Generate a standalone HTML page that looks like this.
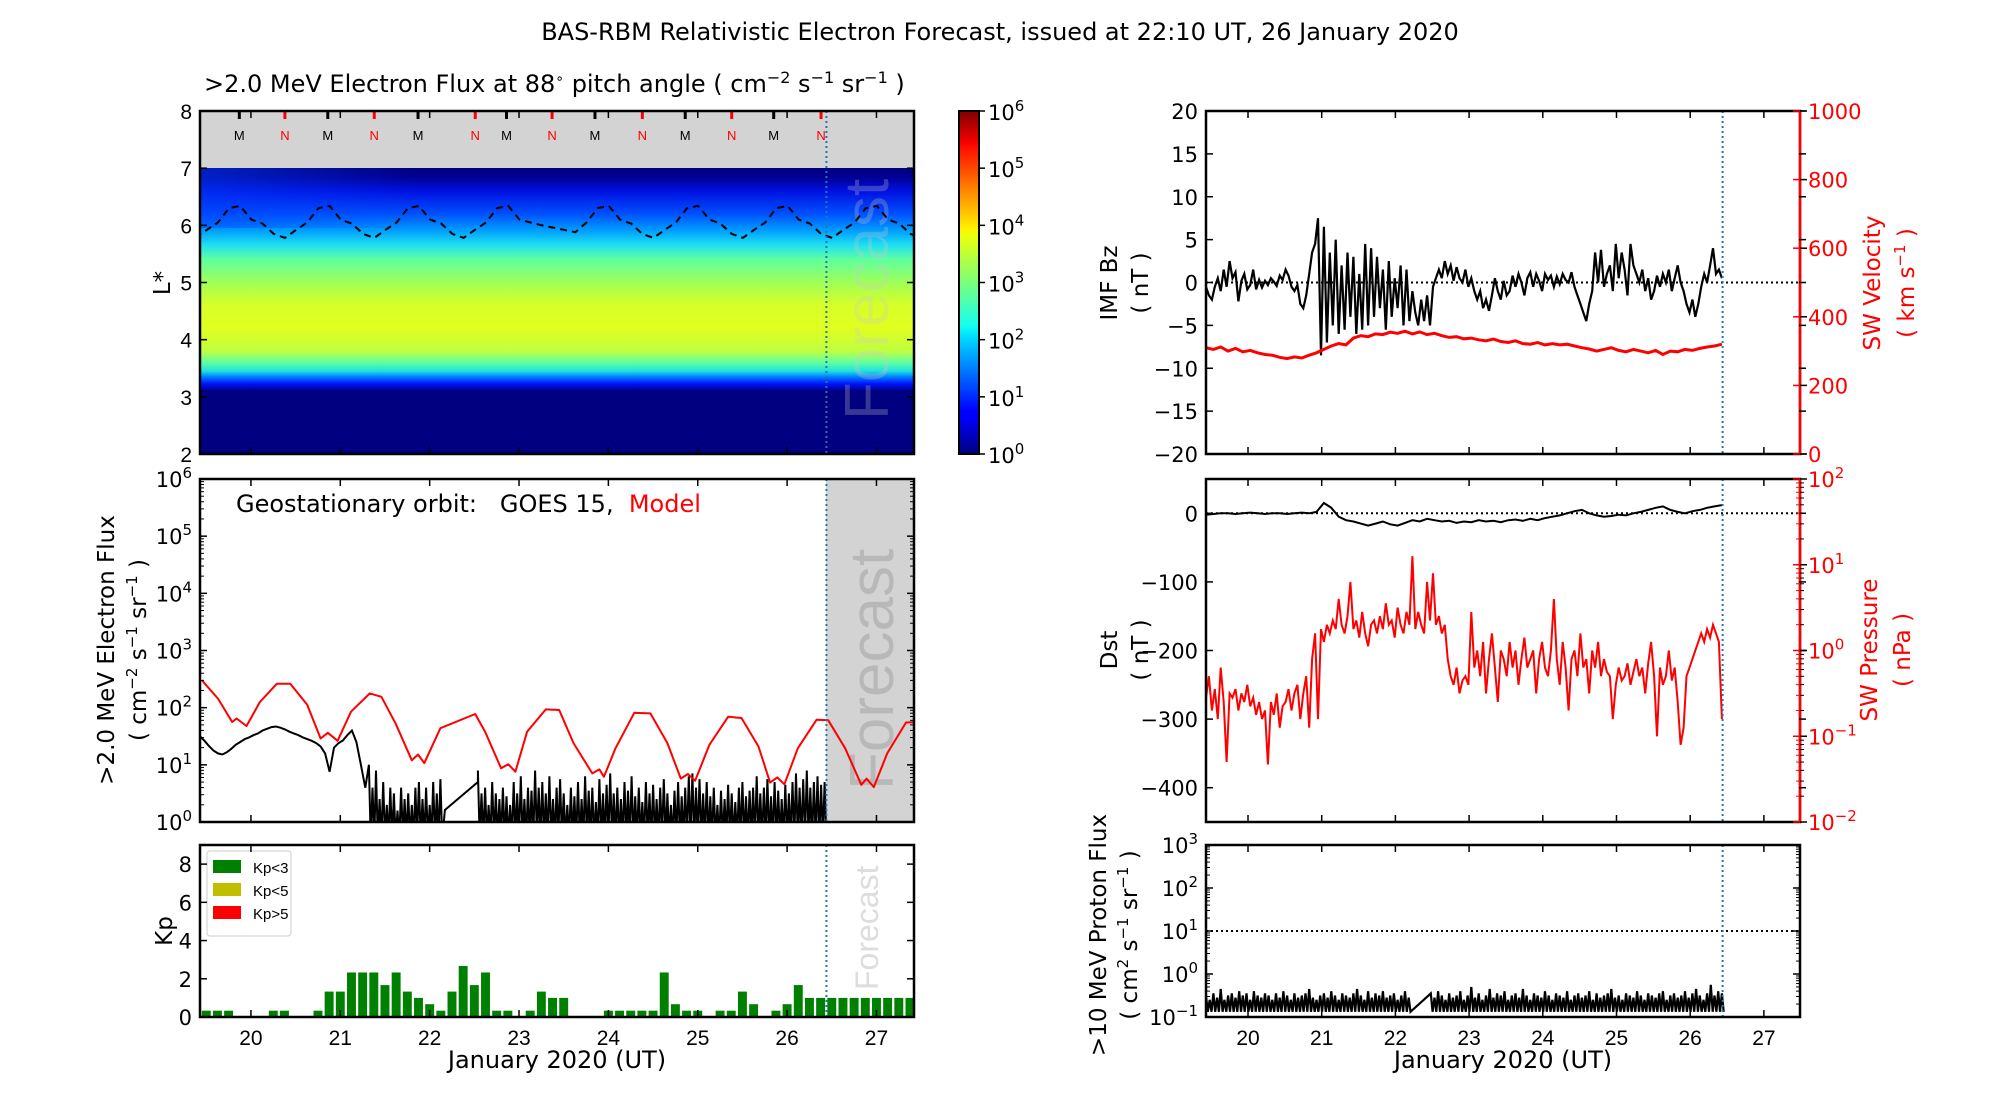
<!DOCTYPE html>
<html><head><meta charset="utf-8"><style>
html,body{margin:0;padding:0;background:#fff;}
svg{display:block;}
text{font-family:"DejaVu Sans","Liberation Sans",sans-serif;}
.lt{font-family:"Liberation Sans","DejaVu Sans",sans-serif;}
</style></head><body>
<svg id="fig" width="2000" height="1100" viewBox="0 0 2000 1100" xmlns="http://www.w3.org/2000/svg">
<defs>
<linearGradient id="heat" x1="0" y1="1" x2="0" y2="0">
<stop offset="0" stop-color="#000080"/><stop offset="0.22" stop-color="#000080"/>
<stop offset="0.245" stop-color="#0010ff"/><stop offset="0.27" stop-color="#0080ff"/>
<stop offset="0.29" stop-color="#20e0e0"/><stop offset="0.32" stop-color="#60ffa0"/>
<stop offset="0.36" stop-color="#c0ff40"/><stop offset="0.44" stop-color="#e0ff20"/>
<stop offset="0.52" stop-color="#d8ff28"/><stop offset="0.6" stop-color="#a0ff58"/>
<stop offset="0.68" stop-color="#60ffa0"/><stop offset="0.73" stop-color="#20e0f0"/>
<stop offset="0.78" stop-color="#00a0ff"/><stop offset="0.84" stop-color="#0050ff"/>
<stop offset="0.92" stop-color="#0010e0"/><stop offset="0.97" stop-color="#000090"/>
<stop offset="1" stop-color="#000080"/></linearGradient>
<linearGradient id="jet" x1="0" y1="1" x2="0" y2="0">
<stop offset="0" stop-color="#000080"/><stop offset="0.11" stop-color="#0000ff"/>
<stop offset="0.125" stop-color="#0000ff"/><stop offset="0.34" stop-color="#00dbff"/>
<stop offset="0.375" stop-color="#14fff0"/><stop offset="0.5" stop-color="#7aff7a"/>
<stop offset="0.64" stop-color="#f0ff08"/><stop offset="0.66" stop-color="#ffee00"/>
<stop offset="0.89" stop-color="#ff1200"/><stop offset="0.91" stop-color="#f50000"/>
<stop offset="1" stop-color="#800000"/></linearGradient>
<linearGradient id="edge" x1="0" y1="0" x2="1" y2="0">
<stop offset="0" stop-color="#0040ff" stop-opacity="0.5"/><stop offset="0.3" stop-color="#0040ff" stop-opacity="0"/></linearGradient>
<clipPath id="cLT"><rect x="200" y="111" width="714" height="343"/></clipPath>
<clipPath id="cLM"><rect x="200" y="479" width="714" height="343"/></clipPath>
<clipPath id="cLK"><rect x="200" y="845" width="714" height="172"/></clipPath>
<clipPath id="cRT"><rect x="1206" y="111" width="594" height="343"/></clipPath>
<clipPath id="cRM"><rect x="1206" y="479" width="594" height="343"/></clipPath>
<clipPath id="cRB"><rect x="1206" y="845" width="594" height="172"/></clipPath>
</defs>

<text x="1000" y="40" text-anchor="middle" font-size="24">BAS-RBM Relativistic Electron Forecast, issued at 22:10 UT, 26 January 2020</text>
<text x="204" y="92" font-size="24">&gt;2.0 MeV Electron Flux at 88<tspan dy="-9" font-size="14">∘</tspan><tspan dy="9">  pitch angle ( cm</tspan><tspan dy="-9" font-size="16">−2</tspan><tspan dy="9"> s</tspan><tspan dy="-9" font-size="16">−1</tspan><tspan dy="9"> sr</tspan><tspan dy="-9" font-size="16">−1</tspan><tspan dy="9">  )</tspan></text>

<!-- top-left heatmap -->
<g clip-path="url(#cLT)">
<rect x="200" y="111" width="714" height="343" fill="#d3d3d3"/>
<rect x="200" y="168" width="714" height="286" fill="url(#heat)"/>
<rect x="200" y="168" width="714" height="60" fill="url(#edge)"/>
<text x="0" y="0" transform="translate(888,420) rotate(-90)" font-size="62" fill="#c8c8c8" fill-opacity="0.28" class="lt">Forecast</text>
<g id="gLT"></g>
</g>
<rect x="959" y="111" width="20" height="343" fill="url(#jet)" stroke="#000" stroke-width="2"/>
<g id="gCB"></g>

<!-- middle-left -->
<rect x="826" y="479" width="88" height="343" fill="#d3d3d3"/>
<text x="0" y="0" transform="translate(893,790) rotate(-90)" font-size="62" fill="#b8b8b8" class="lt">Forecast</text>
<g clip-path="url(#cLM)" id="gLM"></g>
<text x="236" y="512" font-size="24" style="white-space:pre" xml:space="preserve">Geostationary orbit:   GOES 15,  <tspan fill="#ff0000">Model</tspan></text>

<!-- Kp -->
<text x="0" y="0" transform="translate(878,990) rotate(-90)" font-size="32" fill="#dddddd" class="lt">Forecast</text>
<g clip-path="url(#cLK)" id="gLK"></g>
<g>
<rect x="207" y="851" width="84" height="85" rx="3" fill="#fff" stroke="#ccc"/>
<rect x="213" y="860" width="28" height="13" fill="#008000"/>
<text x="253" y="873" font-size="15" class="lt">Kp&lt;3</text>
<rect x="213" y="883" width="28" height="13" fill="#bfbf00"/>
<text x="253" y="896" font-size="15" class="lt">Kp&lt;5</text>
<rect x="213" y="906" width="28" height="13" fill="#ff0000"/>
<text x="253" y="919" font-size="15" class="lt">Kp&gt;5</text>
</g>

<g clip-path="url(#cRT)" id="gRT"></g>
<g clip-path="url(#cRM)" id="gRM"></g>
<g clip-path="url(#cRB)" id="gRB"></g>
<g id="gAx"></g>

<!-- axis labels -->
<text transform="translate(170,283) rotate(-90)" text-anchor="middle" font-size="23">L*</text>
<text transform="translate(114,650) rotate(-90)" text-anchor="middle" font-size="23">&gt;2.0 MeV Electron Flux</text>
<text transform="translate(146,650) rotate(-90)" text-anchor="middle" font-size="23">( cm<tspan dy="-9" font-size="15">−2</tspan><tspan dy="9"> s</tspan><tspan dy="-9" font-size="15">−1</tspan><tspan dy="9"> sr</tspan><tspan dy="-9" font-size="15">−1</tspan><tspan dy="9"> )</tspan></text>
<text transform="translate(172,931) rotate(-90)" text-anchor="middle" font-size="23">Kp</text>
<text x="557" y="1068" text-anchor="middle" font-size="24">January 2020 (UT)</text>
<text x="1503" y="1068" text-anchor="middle" font-size="24">January 2020 (UT)</text>
<text transform="translate(1117,283) rotate(-90)" text-anchor="middle" font-size="23">IMF Bz</text>
<text transform="translate(1148,283) rotate(-90)" text-anchor="middle" font-size="23">( nT )</text>
<text transform="translate(1880,283) rotate(-90)" text-anchor="middle" font-size="23" fill="#ff0000">SW Velocity</text>
<text transform="translate(1914,283) rotate(-90)" text-anchor="middle" font-size="23" fill="#ff0000">( km s<tspan dy="-9" font-size="15">−1</tspan><tspan dy="9"> )</tspan></text>
<text transform="translate(1117,650) rotate(-90)" text-anchor="middle" font-size="23">Dst</text>
<text transform="translate(1148,650) rotate(-90)" text-anchor="middle" font-size="23">( nT )</text>
<text transform="translate(1877,650) rotate(-90)" text-anchor="middle" font-size="23" fill="#ff0000">SW Pressure</text>
<text transform="translate(1910,650) rotate(-90)" text-anchor="middle" font-size="23" fill="#ff0000">( nPa )</text>
<text transform="translate(1106,935) rotate(-90)" text-anchor="middle" font-size="23">&gt;10 MeV Proton Flux</text>
<text transform="translate(1137,935) rotate(-90)" text-anchor="middle" font-size="23">( cm<tspan dy="-9" font-size="15">2</tspan><tspan dy="9"> s</tspan><tspan dy="-9" font-size="15">−1</tspan><tspan dy="9"> sr</tspan><tspan dy="-9" font-size="15">−1</tspan><tspan dy="9"> )</tspan></text>
</svg>
<script>
// ---------------- data ----------------
const dayTicks=[20,21,22,23,24,25,26,27];
const forecastDay=26.44;
const mlmDays=[19.87,20.86,21.87,22.86,23.85,24.86,25.85];
const midnightDays=[20.38,21.38,22.51,23.37,24.38,25.38,26.38];
const geoLStart=19.38, geoLStep=0.125;
const geoLstar=[5.78,5.92,6.05,6.3,6.34,6.1,6.03,5.85, 5.78,5.92,6.05,6.3,6.34,6.1,6.03,5.85, 5.78,5.92,6.05,6.3,6.34,6.1,6.03,5.85, 5.78,5.92,6.05,6.3,6.34,6.1,6.05,6.0, 5.96,5.92,5.88,6.05,6.3,6.34,6.1,6.03,5.85, 5.78,5.92,6.05,6.3,6.34,6.1,6.03,5.85, 5.78,5.92,6.05,6.3,6.34,6.1,6.03,5.85, 5.78,5.92,6.05,6.3,6.34,6.1,6.03,5.85, 5.78,5.92,6.05,6.3,6.34,6.1,6.03,5.85, 5.78];
const modelDays=[19.45,19.63,19.79,19.84,19.95,20.10,20.29,20.44,20.63,20.78,20.86,20.97,21.12,21.33,21.46,21.62,21.80,21.87,21.94,22.12,22.51,22.62,22.80,22.88,22.96,23.09,23.30,23.45,23.61,23.82,23.90,23.95,24.08,24.29,24.47,24.66,24.81,24.89,24.97,25.13,25.34,25.49,25.68,25.81,25.89,25.97,26.12,26.33,26.46,26.65,26.83,26.89,26.97,27.12,27.33,27.48];
const modelLogFlux=[2.48,2.16,1.75,1.81,1.68,2.10,2.42,2.42,2.05,1.46,1.56,1.42,1.93,2.25,2.19,1.72,1.08,1.18,1.03,1.64,1.89,1.58,0.94,1.01,0.88,1.58,1.97,1.96,1.38,0.85,0.92,0.79,1.29,1.91,1.90,1.38,0.76,0.84,0.72,1.35,1.84,1.82,1.32,0.69,0.78,0.66,1.29,1.79,1.78,1.29,0.65,0.76,0.61,1.20,1.74,1.75];
const goesSmoothStart=19.43, goesSmoothStep=0.05;
const goesSmoothLog=[1.5,1.42,1.33,1.25,1.2,1.18,1.22,1.28,1.35,1.4,1.45,1.48,1.52,1.55,1.6,1.63,1.66,1.67,1.65,1.62,1.58,1.55,1.52,1.48,1.45,1.42,1.38,1.32,1.2,0.88,1.3,1.38,1.43,1.52,1.6,1.4,1.0,0.6];
const goesNoisy1Start=21.32, goesNoisyStep=0.04;
const goesNoisy1High=[1.0,0.6,0.9,0.4,0.7,0.3,0.6,0.5,0.2,0.6,0.4,0.5,0.3,0.6,0.7,0.4,0.6,0.3,0.7,0.5,0.75];
const goesGapDays=[22.17,22.54], goesGapLog=[0.21,0.7];
const goesNoisy2Start=22.54;
const goesNoisy2High=[0.9,0.5,0.6,0.3,0.7,0.5,0.4,0.6,0.45,0.3,0.7,0.5,0.8,0.4,0.6,0.55,0.9,0.6,0.7,0.5,0.8,0.4,0.6,0.75,0.5,0.3,0.6,0.45,0.7,0.4,0.8,0.55,0.6,0.35,0.75,0.5,0.65,0.85,0.5,0.6,0.4,0.7,0.55,0.8,0.45,0.6,0.35,0.7,0.5,0.65,0.4,0.6,0.75,0.5,0.3,0.55,0.7,0.45,0.6,0.8,0.85,0.6,0.75,0.5,0.7,0.45,0.6,0.3,0.55,0.4,0.65,0.5,0.35,0.6,0.7,0.45,0.55,0.6,0.8,0.5,0.6,0.75,0.45,0.7,0.55,0.4,0.65,0.5,0.7,0.85,0.6,0.75,0.9,0.6,0.7,0.8,0.65,0.7];
const goesFloorLog=-0.3;
const kpStart=19.5, kpStep=0.125;
const kpValues=[.33,.33,.33,0,0,0,.33,.33,0,0, .33,1.33,1.33,2.33,2.33,2.33,1.67,2.33,1.33,1, .67,.33,1.33,2.67,1.67,2.33,.33,.33,0,.33, 1.33,1,1,0,0,0,.33,.33,.33,.33, .33,2.33,.67,.33,.33,0,.33,.33,1.33,.67, 0,.33,.67,1.67,1,1,1,1,1,1, 1,1,1,1];
const rStart=19.43, rStep=0.04;
const bzValues=[-0.5,-1.5,-2.0,-0.5,0.5,-1.0,1.5,-0.5,2.5,0.5,1.2,-2.2,0.2,1.0,-0.8,-0.3,1.5,-0.8,0.3,-0.6,0.2,-0.3,0.5,0.1,-0.4,0.8,0.3,1.5,0.8,-0.5,-1.0,-0.3,-2.5,-3.0,-1.5,1.0,3.5,4.5,7.5,-8.5,6.5,-7.0,3.5,-5.0,5.0,-6.0,2.0,-5.5,3.5,-4.0,3.0,-6.0,1.0,-5.5,4.5,-5.0,4.0,-4.0,3.0,-3.0,1.5,-5.5,2.5,-4.0,0.5,-3.0,2.0,-5.0,1.5,-4.5,-1.0,-3.5,-5.0,-2.0,-4.5,-1.5,-5.0,-0.5,0.5,1.5,0.5,2.5,1.0,2.0,0.2,1.8,0.5,0.0,1.5,-0.5,0.5,-1.0,-2.0,-1.0,-3.0,-2.0,-3.3,-1.5,0.5,-1.0,-2.0,0.2,-1.5,-1.0,0.8,-0.5,1.0,0.0,-1.5,0.5,1.2,-0.5,1.0,0.2,-1.0,1.0,0.3,0.8,-0.5,0.7,-0.2,1.0,0.3,0.0,1.2,-0.5,-1.5,-2.5,-3.5,-4.5,-2.5,-1.0,3.5,0.0,3.8,-0.5,1.0,2.0,-1.0,4.5,0.5,3.5,1.5,-1.5,4.5,2.0,1.0,0.0,1.5,-1.0,0.5,-2.0,-1.0,0.8,-0.5,1.0,0.0,1.5,-1.0,0.5,2.0,0.0,-1.0,-2.5,-3.5,-2.0,-4.0,-2.5,-0.5,1.0,0.0,2.0,4.0,1.0,1.5,0.5];
const pressureLog=[-0.55,-0.3,-0.7,-0.45,-0.8,-0.2,-0.6,-1.3,-0.5,-0.55,-0.45,-0.7,-0.5,-0.6,-0.4,-0.65,-0.55,-0.75,-0.6,-0.8,-0.7,-1.33,-0.6,-0.75,-0.5,-0.9,-0.65,-0.6,-0.45,-0.7,-0.5,-0.4,-0.8,-0.5,-0.3,-0.9,-0.1,0.2,-0.8,0.25,0.1,0.3,0.2,0.35,0.25,0.6,0.3,0.2,0.4,0.8,0.25,0.35,0.15,0.45,0.2,0.05,0.3,0.35,0.2,0.4,0.25,0.55,0.3,0.35,0.15,0.5,0.3,0.2,0.45,0.3,1.1,0.25,0.45,0.3,0.2,0.8,0.35,0.9,0.3,0.4,0.2,0.3,-0.1,-0.3,-0.4,-0.2,-0.5,-0.35,-0.3,-0.4,0.45,-0.2,0.0,-0.3,0.1,-0.5,-0.1,0.2,-0.2,-0.6,0.0,-0.1,-0.3,0.1,-0.2,0.0,-0.4,-0.1,0.15,-0.2,-0.1,0.0,-0.5,-0.1,0.1,-0.2,-0.3,0.0,0.6,-0.1,-0.4,0.1,-0.2,-0.7,-0.1,0.0,-0.3,0.2,-0.2,-0.1,-0.5,0.0,-0.2,0.1,-0.3,-0.1,-0.25,-0.3,-0.8,-0.4,-0.2,-0.35,-0.3,-0.15,-0.4,-0.25,-0.1,-0.3,-0.2,-0.5,-0.15,0.1,-0.3,-1.0,-0.2,-0.4,-0.3,0.0,-0.35,-0.2,-0.6,-1.1,-0.9,-0.3,-0.2,-0.1,0.0,0.1,0.2,0.1,0.25,0.15,0.3,0.2,0.1,-0.8];
const slowStart=19.43, slowStep=0.1;
const velocityValues=[310,305,312,300,308,298,302,295,290,288,282,278,283,280,288,295,305,315,322,318,338,345,342,350,348,355,352,358,350,356,348,352,345,340,342,336,338,333,330,335,328,325,330,322,320,325,318,322,318,320,315,310,306,300,305,310,302,298,305,300,295,302,290,300,298,305,302,308,312,315,320];
const dstValues=[-2,-1,0,0,-1,0,1,0,-1,0,0,-1,0,1,0,2,15,8,-5,-10,-12,-15,-18,-15,-12,-16,-18,-14,-10,-12,-8,-10,-12,-11,-14,-12,-13,-10,-12,-11,-13,-10,-9,-11,-8,-10,-7,-5,-3,0,3,5,0,-3,-5,-4,-2,-3,0,2,5,8,10,5,2,0,3,5,8,10,12];
const protonStart=19.43, protonStep=0.05;
const protonHighLog=[-0.5,-0.6,-0.45,-0.55,-0.35,-0.6,-0.5,-0.45,-0.55,-0.4,-0.5,-0.45,-0.6,-0.4,-0.5,-0.55,-0.45,-0.5,-0.6,-0.45,-0.55,-0.4,-0.5,-0.6,-0.45,-0.55,-0.5,-0.45,-0.35,-0.55,-0.6,-0.5,-0.45,-0.55,-0.4,-0.5,-0.6,-0.45,-0.5,-0.55,-0.45,-0.35,-0.5,-0.6,-0.4,-0.55,-0.45,-0.5,-0.4,-0.55,-0.5,-0.45,-0.6,-0.5,-0.4,-0.55,null,null,null,null,null,-0.45,-0.55,-0.4,-0.5,-0.6,-0.45,-0.55,-0.5,-0.4,-0.6,-0.5,-0.3,-0.55,-0.45,-0.6,-0.5,-0.35,-0.55,-0.45,-0.5,-0.4,-0.6,-0.5,-0.45,-0.55,-0.35,-0.5,-0.6,-0.45,-0.5,-0.55,-0.4,-0.5,-0.6,-0.45,-0.5,-0.55,-0.4,-0.6,-0.5,-0.45,-0.55,-0.5,-0.4,-0.6,-0.45,-0.55,-0.5,-0.45,-0.35,-0.55,-0.5,-0.6,-0.45,-0.5,-0.55,-0.4,-0.5,-0.6,-0.45,-0.5,-0.55,-0.45,-0.4,-0.6,-0.5,-0.45,-0.55,-0.5,-0.4,-0.55,-0.45,-0.35,-0.5,-0.6,-0.45,-0.25,-0.5,-0.4,-0.45];
const protonFloorLog=-0.88;
const protonThreshold=10;

// ---------------- scales ----------------
const NS='http://www.w3.org/2000/svg';
function lin(d0,d1,r0,r1){return v=>r0+(v-d0)/(d1-d0)*(r1-r0);}
const xL=lin(19.43,27.42,200,914), xR=lin(19.43,27.49,1206,1800);
const yL=lin(2,8,454,111), yEl=lin(0,6,822,479), yKp=lin(0,9,1017,845);
const yBz=lin(-20,20,454,111), yV=lin(0,1000,454,111);
const yDst=lin(-450,50,822,479), yP=lin(-2,2,822,479), yPr=lin(-1,3,1017,845);
function mk(tag,attrs,parent){const e=document.createElementNS(NS,tag);for(const k in attrs)e.setAttribute(k,attrs[k]);parent.appendChild(e);return e;}
function pathD(pts){return pts.map((p,i)=>(i?'L':'M')+p[0].toFixed(1)+','+p[1].toFixed(1)).join('');}
const G=id=>document.getElementById(id);

// heatmap: geostationary L* dashed line
let pts=geoLstar.map((v,i)=>[xL(geoLStart+i*geoLStep),yL(v)]);
let el=mk('path',{d:pathD(pts),fill:'none',stroke:'#000','stroke-width':2,'stroke-dasharray':'7,5'},G('gLT'));


mlmDays.forEach(d=>{
  const t=mk('line',{x1:xL(d),x2:xL(d),y1:111,y2:119,stroke:'#000','stroke-width':3},G('gLT'));
  
  
  const s=mk('text',{x:xL(d),y:140,'text-anchor':'middle','font-size':13,class:'lt'},G('gLT'));s.textContent='M';
  
  
});
midnightDays.forEach(d=>{
  const t=mk('line',{x1:xL(d),x2:xL(d),y1:111,y2:119,stroke:'#f00','stroke-width':3},G('gLT'));
  
  
  const s=mk('text',{x:xL(d),y:140,'text-anchor':'middle','font-size':13,fill:'#f00',class:'lt'},G('gLT'));s.textContent='N';
  
  
});

// electron flux
pts=goesSmoothLog.map((v,i)=>[xL(goesSmoothStart+i*goesSmoothStep),yEl(v)]);
goesNoisy1High.forEach((v,i)=>{const d=goesNoisy1Start+i*goesNoisyStep;pts.push([xL(d),yEl(v)]);pts.push([xL(d+goesNoisyStep/2),yEl(goesFloorLog)]);});
goesGapDays.forEach((d,i)=>pts.push([xL(d),yEl(goesGapLog[i])]));
goesNoisy2High.forEach((v,i)=>{const d=goesNoisy2Start+i*goesNoisyStep;pts.push([xL(d),yEl(v)]);pts.push([xL(d+goesNoisyStep/2),yEl(goesFloorLog)]);});
el=mk('path',{d:pathD(pts),fill:'none',stroke:'#000','stroke-width':2},G('gLM'));


pts=modelDays.map((d,i)=>[xL(d),yEl(modelLogFlux[i])]);
el=mk('path',{d:pathD(pts),fill:'none',stroke:'#f00','stroke-width':2,'stroke-linejoin':'round'},G('gLM'));



// Kp bars
kpValues.forEach((v,i)=>{
  if(v<=0)return;
  const d=kpStart+i*kpStep, c=v<3?'#008000':(v<5?'#bfbf00':'#ff0000');
  const b=mk('rect',{x:xL(d-0.05),y:yKp(v),width:xL(d+0.05)-xL(d-0.05),height:yKp(0)-yKp(v),fill:c},G('gLK'));
  
  
});

// IMF Bz & velocity
el=mk('line',{x1:1206,x2:1800,y1:yBz(0),y2:yBz(0),stroke:'#000','stroke-width':2,'stroke-dasharray':'2,3'},G('gRT'));


pts=bzValues.map((v,i)=>[xR(rStart+i*rStep),yBz(v)]);
el=mk('path',{d:pathD(pts),fill:'none',stroke:'#000','stroke-width':2.2},G('gRT'));


pts=velocityValues.map((v,i)=>[xR(slowStart+i*slowStep),yV(v)]);
el=mk('path',{d:pathD(pts),fill:'none',stroke:'#f00','stroke-width':3},G('gRT'));



// Dst & pressure
el=mk('line',{x1:1206,x2:1800,y1:yDst(0),y2:yDst(0),stroke:'#000','stroke-width':2,'stroke-dasharray':'2,3'},G('gRM'));


pts=dstValues.map((v,i)=>[xR(slowStart+i*slowStep),yDst(v)]);
el=mk('path',{d:pathD(pts),fill:'none',stroke:'#000','stroke-width':2},G('gRM'));


pts=pressureLog.map((v,i)=>[xR(rStart+i*rStep),yP(v)]);
el=mk('path',{d:pathD(pts),fill:'none',stroke:'#f00','stroke-width':2},G('gRM'));



// protons
el=mk('line',{x1:1206,x2:1800,y1:yPr(Math.log10(protonThreshold)),y2:yPr(Math.log10(protonThreshold)),stroke:'#000','stroke-width':2,'stroke-dasharray':'2,3'},G('gRB'));


pts=[];
protonHighLog.forEach((v,i)=>{if(v===null)return;const d=protonStart+i*protonStep;pts.push([xR(d),yPr(v)]);pts.push([xR(d+protonStep/2),yPr(protonFloorLog)]);});
el=mk('path',{d:pathD(pts),fill:'none',stroke:'#000','stroke-width':2.2},G('gRB'));



// ---------------- axes ----------------
const ax=G('gAx');
function frame(x0,y0,x1,y1,name,rightColor){
  const r=mk('rect',{x:x0,y:y0,width:x1-x0,height:y1-y0,fill:'none',stroke:'#000','stroke-width':2.5},ax);
  
  
  if(rightColor){const l=mk('line',{x1:x1,x2:x1,y1:y0,y2:y1,stroke:rightColor,'stroke-width':2.5},ax);
    
    }
}
function fline(x,y0,y1){const l=mk('line',{x1:x,x2:x,y1:y0,y2:y1,stroke:'#1f77b4','stroke-width':2,'stroke-dasharray':'2,3'},ax);
  
  }
function xticks(xs,y0,y1,labels){
  dayTicks.forEach(d=>{
    const x=xs(d);
    const a=mk('line',{x1:x,x2:x,y1:y1,y2:y1-7,stroke:'#000','stroke-width':1.5},ax);
    
    
    const b=mk('line',{x1:x,x2:x,y1:y0,y2:y0+7,stroke:'#000','stroke-width':1.5},ax);
    
    
    if(labels){const t=mk('text',{x:x,y:y1+28,'text-anchor':'middle','font-size':21,class:'lt'},ax);t.textContent=d;
      
      }
  });
}
function yticks(vals,ys,x0,x1,side,fmt,color,fs){
  vals.forEach(v=>{
    const y=ys(v);
    const a=mk('line',{x1:x0,x2:x0+7,y1:y,y2:y,stroke:'#000','stroke-width':1.5},ax);
    
    
    const b=mk('line',{x1:x1,x2:x1-7,y1:y,y2:y,stroke:color||'#000','stroke-width':1.5},ax);
    
    
    if(fmt){
      const t=mk('text',{x:side==='l'?x0-8:x1+8,y:y+8,'text-anchor':side==='l'?'end':'start','font-size':fs||21,fill:color||'#000'},ax);
      fmt(t,v);
      
      
    }
  });
}
function minorLog(decades,ys,x0,x1,color){
  decades.forEach(dd=>{for(let m=2;m<10;m++){const y=ys(dd+Math.log10(m));
    const a=mk('line',{x1:x0,x2:x0+4,y1:y,y2:y,stroke:'#000','stroke-width':1},ax);
    
    
    const b=mk('line',{x1:x1,x2:x1-4,y1:y,y2:y,stroke:color||'#000','stroke-width':1},ax);
    
    }});
}
const num=(t,v)=>{t.textContent=(v<0?'−':'')+Math.abs(v);};
const pow=(t,v)=>{t.textContent='10';const s=document.createElementNS(NS,'tspan');s.setAttribute('dy','-9');s.setAttribute('font-size','15');s.textContent=(v<0?'−':'')+Math.abs(v);t.appendChild(s);};

// left top
fline(xL(forecastDay),111,454);
frame(200,111,914,454,'heatmap-frame');
xticks(xL,111,454,false);
yticks([2,3,4,5,6,7,8],yL,200,914,'l',num,null,21);
G('gAx').querySelectorAll('text').forEach(t=>t.setAttribute('class','lt'));
// colorbar labels
[0,1,2,3,4,5,6].forEach(v=>{
  const y=lin(0,6,454,111)(v);
  const t=mk('text',{x:988,y:y+9,'font-size':21},G('gCB'));pow(t,v);
  
  
  const a=mk('line',{x1:979,x2:985,y1:y,y2:y,stroke:'#000','stroke-width':1.5},G('gCB'));
  
  
});
// left middle
fline(xL(forecastDay),479,822);
frame(200,479,914,822,'electron-flux-frame');
xticks(xL,479,822,false);
yticks([0,1,2,3,4,5,6],yEl,200,914,'l',pow,null,21);
minorLog([0,1,2,3,4,5],yEl,200,914);
// Kp
fline(xL(forecastDay),845,1017);
frame(200,845,914,1017,'kp-frame');
xticks(xL,845,1017,true);
yticks([0,2,4,6,8],yKp,200,914,'l',num,null,21);
// right top
fline(xR(forecastDay),111,454);
frame(1206,111,1800,454,'imf-frame','#ff0000');
xticks(xR,111,454,false);
yticks([-20,-15,-10,-5,0,5,10,15,20],yBz,1206,1806,'l',num,null,21);
yticks([0,200,400,600,800,1000],yV,1800,1800,'r',num,'#ff0000',21);
// right middle
fline(xR(forecastDay),479,822);
frame(1206,479,1800,822,'dst-frame','#ff0000');
xticks(xR,479,822,false);
yticks([-400,-300,-200,-100,0],yDst,1206,1806,'l',num,null,21);
yticks([-2,-1,0,1,2],yP,1800,1800,'r',pow,'#ff0000',21);
minorLog([-2,-1,0,1],yP,1800,1800,'#ff0000');
// right bottom
fline(xR(forecastDay),845,1017);
frame(1206,845,1800,1017,'proton-frame');
xticks(xR,845,1017,true);
yticks([-1,0,1,2,3],yPr,1206,1800,'l',pow,null,21);
minorLog([-1,0,1,2],yPr,1206,1800);
</script>
</body></html>
